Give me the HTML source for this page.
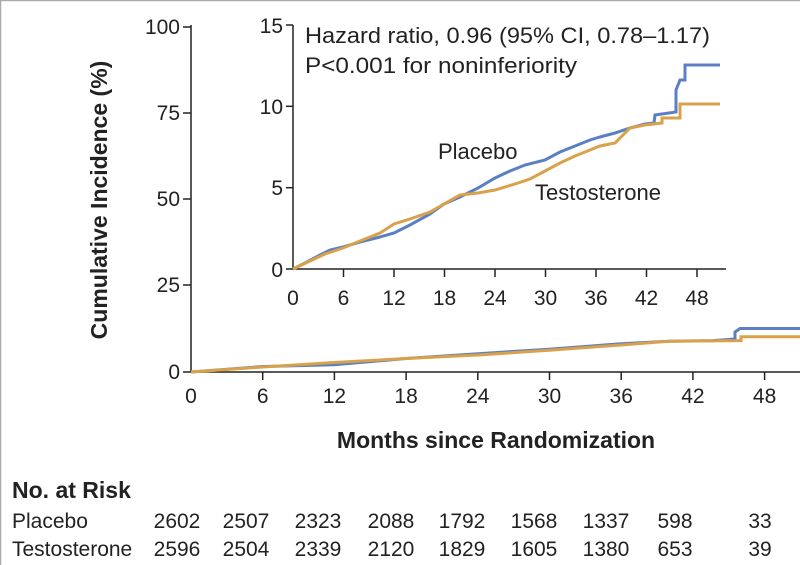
<!DOCTYPE html>
<html><head><meta charset="utf-8"><style>
body{margin:0;background:#fff;}
svg{display:block;font-family:"Liberation Sans",sans-serif;}
</style></head><body>
<svg width="800" height="565" viewBox="0 0 800 565">
<line x1="0" y1="0.5" x2="800" y2="0.5" stroke="#aaa" stroke-width="1.5"/>
<line x1="0.5" y1="0" x2="0.5" y2="565" stroke="#aaa" stroke-width="1.5"/>
<g stroke="#222" stroke-width="1.5" fill="none">
<line x1="191" y1="25" x2="191" y2="372"/>
<line x1="191" y1="372" x2="800" y2="372"/>
<line x1="183" y1="27" x2="191" y2="27"/><line x1="183" y1="113" x2="191" y2="113"/><line x1="183" y1="199" x2="191" y2="199"/><line x1="183" y1="285" x2="191" y2="285"/><line x1="183" y1="372" x2="191" y2="372"/>
<line x1="262.7" y1="372" x2="262.7" y2="380"/><line x1="334.4" y1="372" x2="334.4" y2="380"/><line x1="406.1" y1="372" x2="406.1" y2="380"/><line x1="477.8" y1="372" x2="477.8" y2="380"/><line x1="549.5" y1="372" x2="549.5" y2="380"/><line x1="621.2" y1="372" x2="621.2" y2="380"/><line x1="692.9" y1="372" x2="692.9" y2="380"/><line x1="764.6" y1="372" x2="764.6" y2="380"/>
</g>
<g font-size="21" fill="#222" text-anchor="end">
<text x="180" y="34">100</text><text x="180" y="120">75</text><text x="180" y="206">50</text><text x="180" y="292">25</text><text x="180" y="379">0</text>
</g>
<g font-size="21" fill="#222" text-anchor="middle">
<text x="191" y="403">0</text><text x="262.7" y="403">6</text><text x="334.4" y="403">12</text><text x="406.1" y="403">18</text><text x="477.8" y="403">24</text><text x="549.5" y="403">30</text><text x="621.2" y="403">36</text><text x="692.9" y="403">42</text><text x="764.6" y="403">48</text>
</g>
<text x="496" y="448" font-size="23" font-weight="bold" text-anchor="middle" fill="#222">Months since Randomization</text>
<text transform="translate(107,200) rotate(-90)" font-size="23" font-weight="bold" text-anchor="middle" fill="#222">Cumulative Incidence (%)</text>
<polyline fill="none" stroke="#5b7fc4" stroke-width="3" points="191,372 263,366.5 334,364.8 406,358.5 478,353.7 549,349.2 621,343.7 669,341.3 713,340.6 735,339 735,332 740,328.5 800,328.5"/>
<polyline fill="none" stroke="#d9a24a" stroke-width="3" points="191,372 263,367 334,362.5 406,358.5 478,355 549,350.3 621,345 669,341.3 741,340.6 741,336.8 800,336.8"/>
<g stroke="#222" stroke-width="1.5" fill="none">
<line x1="293" y1="25" x2="293" y2="269"/>
<line x1="293" y1="269" x2="726" y2="269"/>
<line x1="286" y1="25" x2="293" y2="25"/><line x1="286" y1="106.3" x2="293" y2="106.3"/><line x1="286" y1="187.7" x2="293" y2="187.7"/><line x1="286" y1="269" x2="293" y2="269"/>
<line x1="343.5" y1="269" x2="343.5" y2="277"/><line x1="394" y1="269" x2="394" y2="277"/><line x1="444.5" y1="269" x2="444.5" y2="277"/><line x1="495" y1="269" x2="495" y2="277"/><line x1="545.5" y1="269" x2="545.5" y2="277"/><line x1="596" y1="269" x2="596" y2="277"/><line x1="646.5" y1="269" x2="646.5" y2="277"/><line x1="697" y1="269" x2="697" y2="277"/>
</g>
<g font-size="21" fill="#222" text-anchor="end">
<text x="283" y="33">15</text><text x="283" y="114">10</text><text x="283" y="195">5</text><text x="283" y="277">0</text>
</g>
<g font-size="21" fill="#222" text-anchor="middle">
<text x="293" y="305">0</text><text x="343.5" y="305">6</text><text x="394" y="305">12</text><text x="444.5" y="305">18</text><text x="495" y="305">24</text><text x="545.5" y="305">30</text><text x="596" y="305">36</text><text x="646.5" y="305">42</text><text x="697" y="305">48</text>
</g>
<text x="305" y="43" font-size="22" fill="#222" textLength="405" lengthAdjust="spacingAndGlyphs">Hazard ratio, 0.96 (95% CI, 0.78–1.17)</text>
<text x="305" y="73" font-size="22" fill="#222" textLength="272" lengthAdjust="spacingAndGlyphs">P&lt;0.001 for noninferiority</text>
<text x="438" y="159" font-size="22" fill="#222">Placebo</text>
<text x="535" y="200" font-size="22" fill="#222">Testosterone</text>
<polyline fill="none" stroke="#5b7fc4" stroke-width="3" points="293,269 305,263 320,255 330,250 343,247 360,242 380,237 394,233 410,225 430,214 444,204 460,197 478,188 495,178 510,171 525,165 545,160 560,152 575,146 590,140 600,137 615,133 630,128 645,124 654,123 655,115 676,112 676,90 680,80 685,80 685,65 720,65"/>
<polyline fill="none" stroke="#d9a24a" stroke-width="3" points="293,269 310,261 325,254 343,248 360,241 380,233 394,224 410,219 430,212 444,204 460,195 478,193 495,190 515,184 530,179 545,171 560,163 575,156 590,150 600,146 615,143 630,128 645,125 662,123 662,118 680,118 680,104 720,104"/>
<text x="12" y="498" font-size="23" font-weight="bold" fill="#222">No. at Risk</text>
<text x="12" y="528" font-size="21" fill="#222">Placebo</text>
<text x="12" y="556" font-size="21" fill="#222">Testosterone</text>
<g font-size="21" fill="#222" text-anchor="middle">
<text x="177" y="528">2602</text><text x="246" y="528">2507</text><text x="318" y="528">2323</text><text x="391" y="528">2088</text><text x="462" y="528">1792</text><text x="534" y="528">1568</text><text x="606" y="528">1337</text><text x="675" y="528">598</text><text x="760" y="528">33</text>
<text x="177" y="556">2596</text><text x="246" y="556">2504</text><text x="318" y="556">2339</text><text x="391" y="556">2120</text><text x="462" y="556">1829</text><text x="534" y="556">1605</text><text x="606" y="556">1380</text><text x="675" y="556">653</text><text x="760" y="556">39</text>
</g>
</svg>
</body></html>
